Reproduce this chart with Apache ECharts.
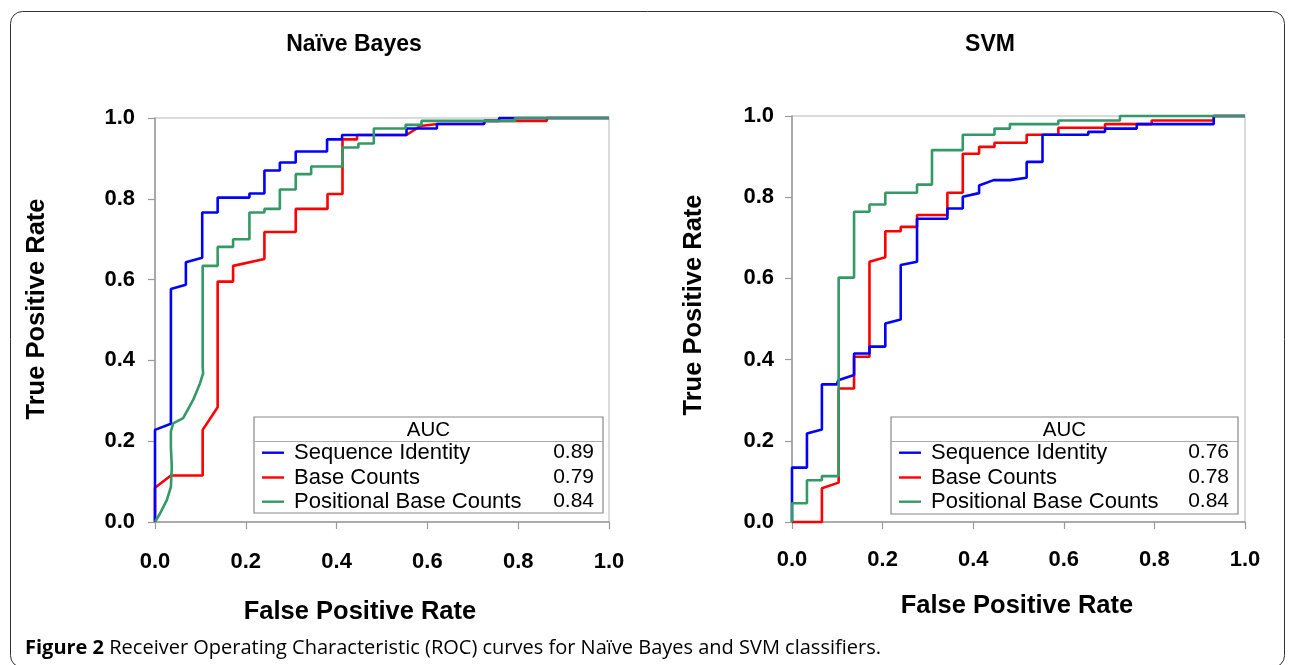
<!DOCTYPE html>
<html>
<head>
<meta charset="utf-8">
<script src="https://cdn.jsdelivr.net/npm/echarts@6/dist/echarts.min.js"></script>
<style>
html,body{margin:0;padding:0;background:#fff;}
#chart{width:1290px;height:665px;}
</style>
</head>
<body>
<div id="chart"></div>
<script>
// ---------- DATA ----------
const panelTitles = ['Naïve Bayes', 'SVM'];
const seriesNames = ['Sequence Identity', 'Base Counts', 'Positional Base Counts'];
const nbAUC = ['0.89', '0.79', '0.84'];
const svmAUC = ['0.76', '0.78', '0.84'];
const xAxisName = 'False Positive Rate';
const yAxisName = 'True Positive Rate';
const legendHeader = 'AUC';
const captionBold = 'Figure 2';
const captionText = ' Receiver Operating Characteristic (ROC) curves for Naïve Bayes and SVM classifiers.';

// Naïve Bayes ROC points [FPR, TPR]
const nbSeqIdentity = [[0,0],[0,0.228],[0.035,0.243],[0.035,0.577],[0.068,0.587],[0.068,0.643],[0.104,0.654],[0.104,0.766],[0.138,0.766],[0.138,0.803],[0.208,0.803],[0.208,0.813],[0.241,0.813],[0.241,0.870],[0.275,0.870],[0.275,0.890],[0.310,0.890],[0.310,0.917],[0.379,0.917],[0.379,0.947],[0.412,0.947],[0.412,0.958],[0.554,0.958],[0.554,0.974],[0.621,0.974],[0.621,0.985],[0.725,0.985],[0.725,0.993],[0.758,0.993],[0.758,1.0],[1,1]];
const nbBaseCounts = [[0,0],[0,0.085],[0.035,0.115],[0.105,0.115],[0.105,0.228],[0.138,0.284],[0.138,0.595],[0.172,0.595],[0.172,0.634],[0.241,0.651],[0.241,0.718],[0.310,0.718],[0.310,0.775],[0.380,0.775],[0.380,0.812],[0.413,0.812],[0.413,0.947],[0.445,0.947],[0.445,0.958],[0.554,0.958],[0.584,0.980],[0.622,0.985],[0.725,0.985],[0.725,0.993],[0.863,0.993],[0.863,1.0],[1,1]];
const nbPositional = [[0,0],[0.011,0.021],[0.026,0.054],[0.035,0.087],[0.037,0.137],[0.035,0.186],[0.035,0.224],[0.040,0.244],[0.062,0.257],[0.084,0.302],[0.099,0.343],[0.106,0.368],[0.105,0.384],[0.105,0.634],[0.138,0.634],[0.138,0.681],[0.172,0.681],[0.172,0.700],[0.208,0.700],[0.208,0.766],[0.241,0.766],[0.241,0.775],[0.275,0.775],[0.275,0.823],[0.310,0.823],[0.310,0.861],[0.344,0.861],[0.344,0.880],[0.413,0.880],[0.413,0.927],[0.448,0.927],[0.448,0.937],[0.482,0.937],[0.482,0.974],[0.552,0.974],[0.552,0.983],[0.587,0.983],[0.587,0.993],[0.793,0.993],[0.793,1.0],[1,1]];

// SVM ROC points [FPR, TPR]
const svmSeqIdentity = [[0,0],[0,0.134],[0.033,0.134],[0.033,0.218],[0.066,0.228],[0.066,0.339],[0.099,0.339],[0.102,0.349],[0.137,0.362],[0.137,0.415],[0.171,0.415],[0.171,0.432],[0.206,0.432],[0.206,0.489],[0.240,0.499],[0.240,0.633],[0.276,0.641],[0.276,0.747],[0.343,0.747],[0.343,0.772],[0.377,0.772],[0.377,0.801],[0.413,0.810],[0.413,0.829],[0.445,0.842],[0.481,0.842],[0.518,0.848],[0.518,0.887],[0.553,0.887],[0.553,0.954],[0.654,0.954],[0.654,0.961],[0.691,0.961],[0.691,0.969],[0.761,0.969],[0.761,0.980],[0.931,0.980],[0.931,1.0],[1,1]];
const svmBaseCounts = [[0,0],[0.066,0],[0.066,0.083],[0.103,0.097],[0.103,0.329],[0.137,0.329],[0.137,0.407],[0.171,0.407],[0.171,0.641],[0.206,0.652],[0.206,0.716],[0.240,0.716],[0.240,0.727],[0.276,0.727],[0.276,0.756],[0.343,0.756],[0.343,0.811],[0.377,0.811],[0.377,0.907],[0.413,0.907],[0.413,0.924],[0.447,0.924],[0.447,0.934],[0.518,0.934],[0.518,0.954],[0.588,0.954],[0.588,0.971],[0.691,0.971],[0.691,0.980],[0.794,0.980],[0.794,0.989],[0.931,0.989],[0.931,1.0],[1,1]];
const svmPositional = [[0,0],[0,0.046],[0.033,0.046],[0.033,0.103],[0.066,0.103],[0.066,0.113],[0.103,0.113],[0.103,0.602],[0.137,0.602],[0.137,0.764],[0.171,0.764],[0.171,0.782],[0.206,0.782],[0.206,0.811],[0.276,0.811],[0.276,0.831],[0.309,0.831],[0.309,0.916],[0.377,0.916],[0.377,0.954],[0.447,0.954],[0.447,0.969],[0.481,0.969],[0.481,0.980],[0.588,0.980],[0.588,0.989],[0.724,0.989],[0.724,1.0],[1,1]];

// ---------- STYLE / LAYOUT ----------
const colors = ['#0000ff', '#ff0000', '#339966'];
const FONT = '"Liberation Sans", Arial, sans-serif';
const grids = [
  {left: 155, top: 118, width: 454, height: 404},
  {left: 792, top: 116, width: 453, height: 406}
];

function makeAxis(gi, margin) {
  return {
    type: 'value', gridIndex: gi, min: 0, max: 1, interval: 0.2,
    axisLine: {show: true, onZero: false, lineStyle: {color: '#9a9a9a', width: 1.5}},
    axisTick: {show: true, length: 7, lineStyle: {color: '#9a9a9a', width: 1.2}},
    splitLine: {show: false},
    axisLabel: {
      margin: margin, color: '#000', fontSize: 22, fontWeight: 'bold', fontFamily: FONT,
      formatter: v => v.toFixed(1)
    }
  };
}

const allData = [
  [nbSeqIdentity, nbBaseCounts, nbPositional],
  [svmSeqIdentity, svmBaseCounts, svmPositional]
];
const zOrder = [3, 2, 4];
const series = [];
allData.forEach((panel, gi) => {
  panel.forEach((d, si) => {
    series.push({
      type: 'line', name: seriesNames[si], xAxisIndex: gi, yAxisIndex: gi,
      data: d, showSymbol: false, symbol: 'none', clip: false, z: zOrder[si],
      lineStyle: {color: colors[si], width: 2.6}, itemStyle: {color: colors[si]},
      animation: false
    });
  });
});

function legendGroup(x0, y0, w, h, aucVals) {
  const els = [];
  els.push({type: 'rect', shape: {x: x0, y: y0, width: w, height: h},
    style: {fill: '#fff', stroke: '#888', lineWidth: 1.2}, z: 10});
  els.push({type: 'line', shape: {x1: x0, y1: y0 + 24.5, x2: x0 + w, y2: y0 + 24.5},
    style: {stroke: '#aaa', lineWidth: 1}, z: 11});
  els.push({type: 'text', x: x0 + w / 2, y: y0 + 13, z: 11,
    style: {text: legendHeader, font: '20.5px ' + FONT, fill: '#000', align: 'center', verticalAlign: 'middle'}});
  const rowOff = [35.7, 60.5, 84.7];
  seriesNames.forEach((n, i) => {
    const cy = y0 + rowOff[i];
    els.push({type: 'line', shape: {x1: x0 + 8, y1: cy, x2: x0 + 30, y2: cy},
      style: {stroke: colors[i], lineWidth: 2.4}, z: 11});
    els.push({type: 'text', x: x0 + 40, y: cy, z: 11,
      style: {text: n, font: '22px ' + FONT, fill: '#000', align: 'left', verticalAlign: 'middle'}});
    els.push({type: 'text', x: x0 + w - 9, y: cy, z: 11,
      style: {text: aucVals[i], font: '21px ' + FONT, fill: '#000', align: 'right', verticalAlign: 'middle'}});
  });
  return els;
}

const graphic = [
  {type: 'rect', shape: {x: 10.5, y: 11.5, width: 1274, height: 656, r: 12},
    style: {fill: 'none', stroke: '#333', lineWidth: 1}, z: 0, silent: true},
  {type: 'text', x: 37, y: 309, rotation: Math.PI / 2, z: 5,
    style: {text: yAxisName, font: 'bold 25.5px ' + FONT, fill: '#000', align: 'center', verticalAlign: 'middle'}},
  {type: 'text', x: 694, y: 305, rotation: Math.PI / 2, z: 5,
    style: {text: yAxisName, font: 'bold 25.5px ' + FONT, fill: '#000', align: 'center', verticalAlign: 'middle'}},
  {type: 'text', x: 360, y: 612, z: 5,
    style: {text: xAxisName, font: 'bold 25.5px ' + FONT, fill: '#000', align: 'center', verticalAlign: 'middle'}},
  {type: 'text', x: 1017, y: 606, z: 5,
    style: {text: xAxisName, font: 'bold 25.5px ' + FONT, fill: '#000', align: 'center', verticalAlign: 'middle'}},
  {type: 'text', x: 25, y: 648, z: 5,
    style: {
      text: '{b|' + captionBold + '}' + captionText,
      font: '20px "Open Sans", sans-serif', fill: '#000', align: 'left', verticalAlign: 'middle',
      rich: {b: {fontWeight: 'bold', fontSize: 20, fontFamily: '"Open Sans", sans-serif', fill: '#000'}}
    }}
].concat(legendGroup(254, 417, 349, 96, nbAUC), legendGroup(891, 417, 347, 97, svmAUC));

const option = {
  backgroundColor: '#fff',
  animation: false,
  title: [
    {text: panelTitles[0], left: 349, top: 28, textAlign: 'center',
      textStyle: {fontSize: 23, fontWeight: 'bold', fontFamily: FONT, color: '#000'}},
    {text: panelTitles[1], left: 985, top: 28, textAlign: 'center',
      textStyle: {fontSize: 23, fontWeight: 'bold', fontFamily: FONT, color: '#000'}}
  ],
  grid: grids.map(g => Object.assign({show: true, borderColor: '#cfcfcf', borderWidth: 1.5, backgroundColor: 'transparent'}, g)),
  xAxis: [makeAxis(0, 29), makeAxis(1, 27)],
  yAxis: [makeAxis(0, 20), makeAxis(1, 18)],
  series: series,
  graphic: graphic
};

const chart = echarts.init(document.getElementById('chart'), null, {renderer: 'canvas'});
chart.setOption(option);
</script>
</body>
</html>
